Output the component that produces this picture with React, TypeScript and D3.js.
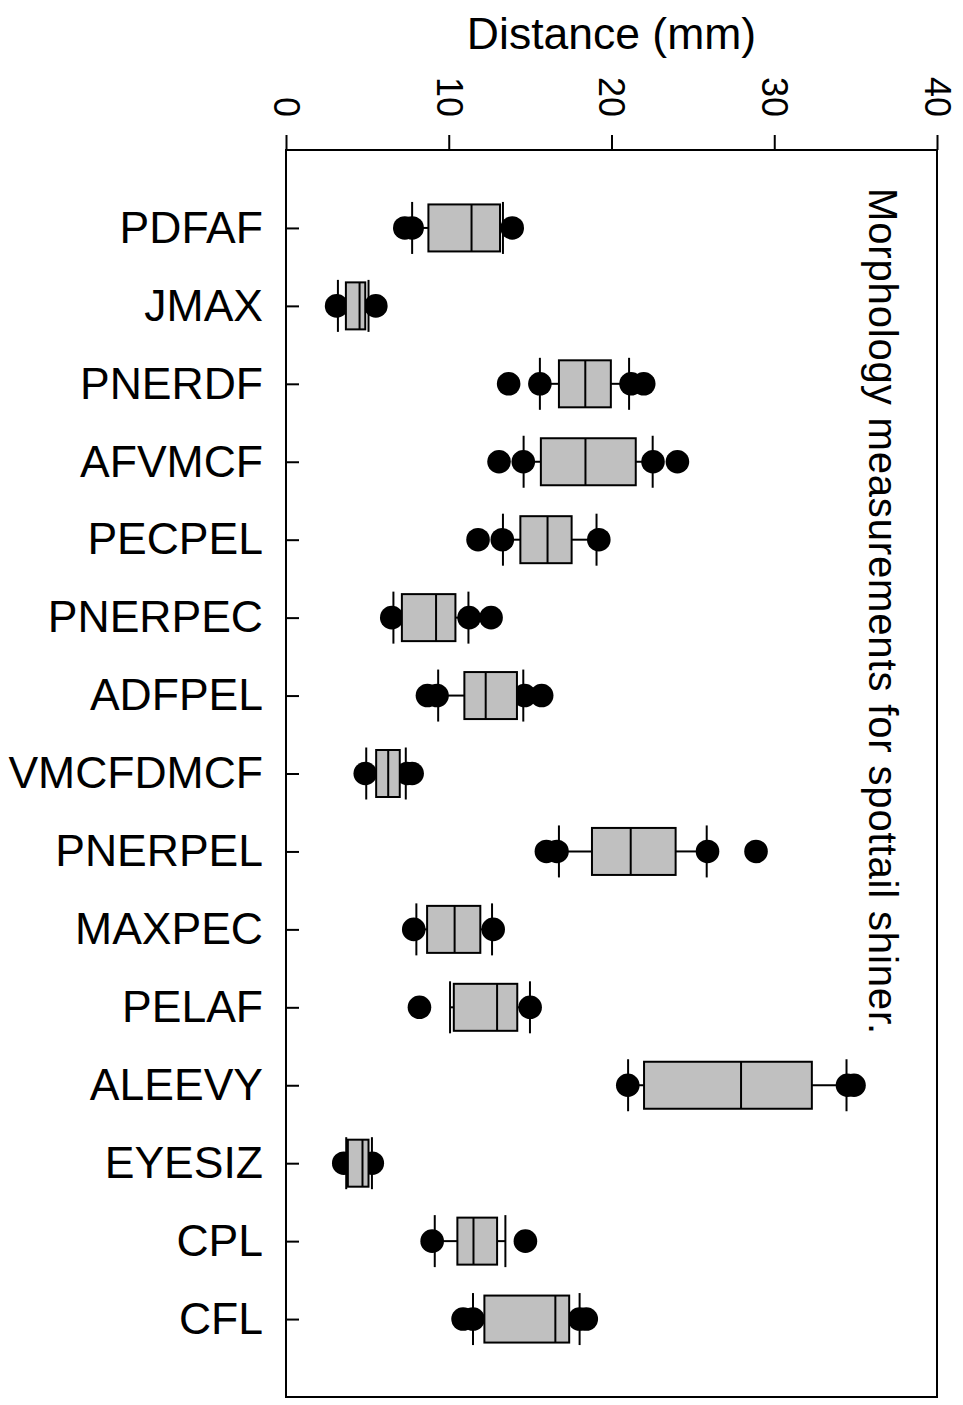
import React, { useEffect, useRef } from 'react';
import * as d3 from 'd3';

const categories = ['PDFAF', 'JMAX', 'PNERDF', 'AFVMCF', 'PECPEL', 'PNERPEC', 'ADFPEL', 'VMCFDMCF',
  'PNERPEL', 'MAXPEC', 'PELAF', 'ALEEVY', 'EYESIZ', 'CPL', 'CFL'];

// whisker ends, quartiles and medians (mm)
const whiskerLow = [7.75, 3.19, 15.6, 14.6, 13.33, 6.6, 9.35, 4.93, 16.77, 8.01, 10.08, 21.02, 3.7, 9.14, 11.49];
const q1 = [8.75, 3.68, 16.77, 15.66, 14.4, 7.12, 10.96, 5.54, 18.8, 8.67, 10.31, 22.0, 3.8, 10.53, 12.19];
const median = [11.4, 4.52, 18.39, 18.4, 16.07, 9.22, 12.27, 6.28, 21.18, 10.36, 12.97, 27.96, 4.7, 11.52, 16.55];
const q3 = [13.15, 4.87, 19.96, 21.49, 17.55, 10.41, 14.19, 6.99, 23.94, 11.94, 14.21, 32.31, 5.07, 12.97, 17.4];
const whiskerHigh = [13.33, 5.07, 21.08, 22.53, 19.08, 11.21, 14.58, 7.36, 25.85, 12.66, 14.99, 34.44, 5.28, 13.48, 18.04];
const outliers = [
  [7.3, 7.75, 13.9],
  [3.11, 5.52],
  [13.68, 15.6, 21.2, 21.98],
  [13.09, 14.58, 22.55, 24.05],
  [11.8, 13.29, 19.22],
  [6.5, 11.25, 12.6],
  [8.69, 9.28, 14.66, 15.71],
  [4.87, 7.45, 7.75],
  [16.0, 16.65, 25.9, 28.88],
  [7.85, 12.73],
  [8.2, 15.0],
  [21.0, 34.5, 34.9],
  [3.55, 5.3],
  [8.98, 14.71],
  [10.88, 11.49, 18.04, 18.45],
];
const xTicks = [0, 10, 20, 30, 40];

const W = 963, H = 1405;
const margin = { top: 150, right: 26, bottom: 8, left: 286 };
const font = '"Liberation Sans", Arial, sans-serif';

export default function App() {
  const ref = useRef<SVGSVGElement>(null);

  useEffect(() => {
    const svg = d3.select(ref.current);
    svg.selectAll('*').remove();

    const x = d3.scaleLinear().domain([0, 40]).range([margin.left, W - margin.right]);
    const y = d3.scalePoint().domain(categories).range([margin.top, H - margin.bottom]).padding(1);

    const rows = categories.map((c, i) => ({
      c, lo: whiskerLow[i], q1: q1[i], med: median[i], q3: q3[i], hi: whiskerHigh[i], out: outliers[i]
    }));

    const g = svg.append('g');

    // dots first, boxes drawn over them
    rows.forEach(r => {
      g.selectAll(null).data(r.out).enter().append('circle')
        .attr('cx', d => x(d)).attr('cy', y(r.c)!).attr('r', 11.8).attr('fill', '#000');
    });

    const boxH = 23.5, capH = 26;
    rows.forEach(r => {
      const cy = y(r.c)!;
      g.append('line').attr('x1', x(r.lo)).attr('x2', x(r.q1)).attr('y1', cy).attr('y2', cy)
        .attr('stroke', '#000').attr('stroke-width', 2);
      g.append('line').attr('x1', x(r.q3)).attr('x2', x(r.hi)).attr('y1', cy).attr('y2', cy)
        .attr('stroke', '#000').attr('stroke-width', 2);
      [r.lo, r.hi].forEach(v => {
        g.append('line').attr('x1', x(v)).attr('x2', x(v)).attr('y1', cy - capH).attr('y2', cy + capH)
          .attr('stroke', '#000').attr('stroke-width', 2);
      });
      g.append('rect').attr('x', x(r.q1)).attr('y', cy - boxH)
        .attr('width', x(r.q3) - x(r.q1)).attr('height', boxH * 2)
        .attr('fill', '#c0c0c0').attr('stroke', '#000').attr('stroke-width', 2);
      g.append('line').attr('x1', x(r.med)).attr('x2', x(r.med)).attr('y1', cy - boxH).attr('y2', cy + boxH)
        .attr('stroke', '#000').attr('stroke-width', 2);
    });

    // frame
    svg.append('rect').attr('x', margin.left).attr('y', margin.top)
      .attr('width', W - margin.right - margin.left).attr('height', H - margin.bottom - margin.top)
      .attr('fill', 'none').attr('stroke', '#000').attr('stroke-width', 2);

    // top axis
    const top = svg.append('g').attr('transform', `translate(0,${margin.top})`)
      .call(d3.axisTop(x).tickValues(xTicks).tickSize(15).tickFormat(d3.format('d')));
    top.select('.domain').remove();
    top.selectAll('line').attr('stroke-width', 2);
    top.selectAll('text')
      .attr('x', 0).attr('y', 0).attr('dy', '0.35em')
      .attr('transform', 'translate(0,-33) rotate(90)')
      .attr('text-anchor', 'end')
      .attr('font-size', 36).attr('font-family', font).attr('fill', '#000');

    // left axis
    const left = svg.append('g').attr('transform', `translate(${margin.left},0)`)
      .call(d3.axisLeft(y).tickSizeInner(-13).tickSizeOuter(0).tickPadding(23));
    left.select('.domain').remove();
    left.selectAll('line').attr('stroke-width', 2);
    left.selectAll('text').attr('font-size', 44.5).attr('font-family', font).attr('fill', '#000');

    svg.append('text').attr('x', (margin.left + W - margin.right) / 2).attr('y', 49)
      .attr('text-anchor', 'middle').attr('font-size', 44.5).attr('font-family', font)
      .text('Distance (mm)');

    svg.append('text').attr('transform', 'translate(869,188) rotate(90)')
      .attr('font-size', 40).attr('font-family', font)
      .attr('textLength', 846).attr('lengthAdjust', 'spacing')
      .text('Morphology measurements for spottail shiner.');
  }, []);

  return (
    <svg ref={ref} width={W} height={H}
      style={{ position: 'absolute', left: 0, top: 0, background: '#fff' }} />
  );
}
